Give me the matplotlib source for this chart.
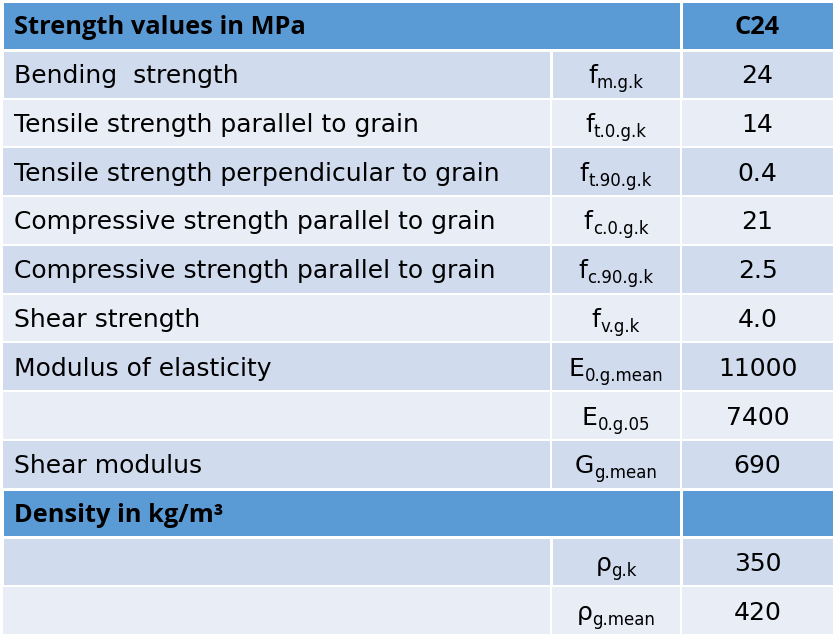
import matplotlib
matplotlib.use("Agg")
import matplotlib.pyplot as plt
from matplotlib.patches import Rectangle

plt.rcParams['font.family'] = ['DejaVu Sans']

# table content
names = ["Strength values in MPa",
         "Bending  strength",
         "Tensile strength parallel to grain",
         "Tensile strength perpendicular to grain",
         "Compressive strength parallel to grain",
         "Compressive strength parallel to grain",
         "Shear strength",
         "Modulus of elasticity",
         "",
         "Shear modulus",
         "Density in kg/m³",
         "",
         ""]
sym_base = ["", "f", "f", "f", "f", "f", "f", "E", "E", "G", "", "ρ", "ρ"]
sym_sub = ["", "m.g.k", "t.0.g.k", "t.90.g.k", "c.0.g.k", "c.90.g.k", "v.g.k",
           "0.g.mean", "0.g.05", "g.mean", "", "g.k", "g.mean"]
values = ["C24", "24", "14", "0.4", "21", "2.5", "4.0", "11000", "7400", "690",
          "", "350", "420"]
header_rows = [0, 10]

W, H = 836, 635
fig = plt.figure(figsize=(W / 100, H / 100), dpi=100)
ax = fig.add_axes([0, 0, 1, 1])
ax.set_xlim(0, W)
ax.set_ylim(H, 0)
ax.axis('off')
r = fig.canvas.get_renderer()

hdr = '#5B9BD5'
band1 = '#D0DBEE'
band2 = '#E9EDF6'
x0, x1, x2, x3 = 2, 551, 681, 834
top, bottom = 1, 635
n = len(names)
rh = (bottom - top) / n
fs = 18
fs_bold = 18.3
fs_sub = 12

for i in range(n):
    y = top + i * rh
    if i in header_rows:
        color = hdr
        cells = [(x0, x2), (x2, x3)]
        lw = 3
    else:
        color = band1 if (i % 2 == 1) else band2
        cells = [(x0, x1), (x1, x2), (x2, x3)]
        lw = 2
    if i - 1 in header_rows:
        lw = 3
    for a, b in cells:
        ax.add_patch(Rectangle((a, y), b - a, rh, facecolor=color,
                               edgecolor='white', linewidth=lw * 0.72))
    base_y = y + rh / 2 + 9
    if i in header_rows:
        kw = dict(fontsize=fs_bold, fontweight='bold',
                  family=['Open Sans', 'DejaVu Sans'])
    else:
        kw = dict(fontsize=fs)
    ax.text(x0 + 12, base_y, names[i], va='baseline', ha='left',
            color='black', **kw)
    ax.text((x2 + x3) / 2, base_y, values[i], va='baseline',
            ha='center', color='black', **kw)
    if sym_base[i]:
        t1 = ax.text(0, base_y, sym_base[i], fontsize=fs, va='baseline', ha='left')
        t2 = ax.text(0, base_y + 5, sym_sub[i], fontsize=fs_sub, va='baseline', ha='left')
        w1 = t1.get_window_extent(r).width
        w2 = t2.get_window_extent(r).width
        left = (x1 + x2) / 2 - (w1 + w2) / 2
        t1.set_x(left)
        t2.set_x(left + w1)

fig.savefig('out.png', dpi=100, facecolor='white')
